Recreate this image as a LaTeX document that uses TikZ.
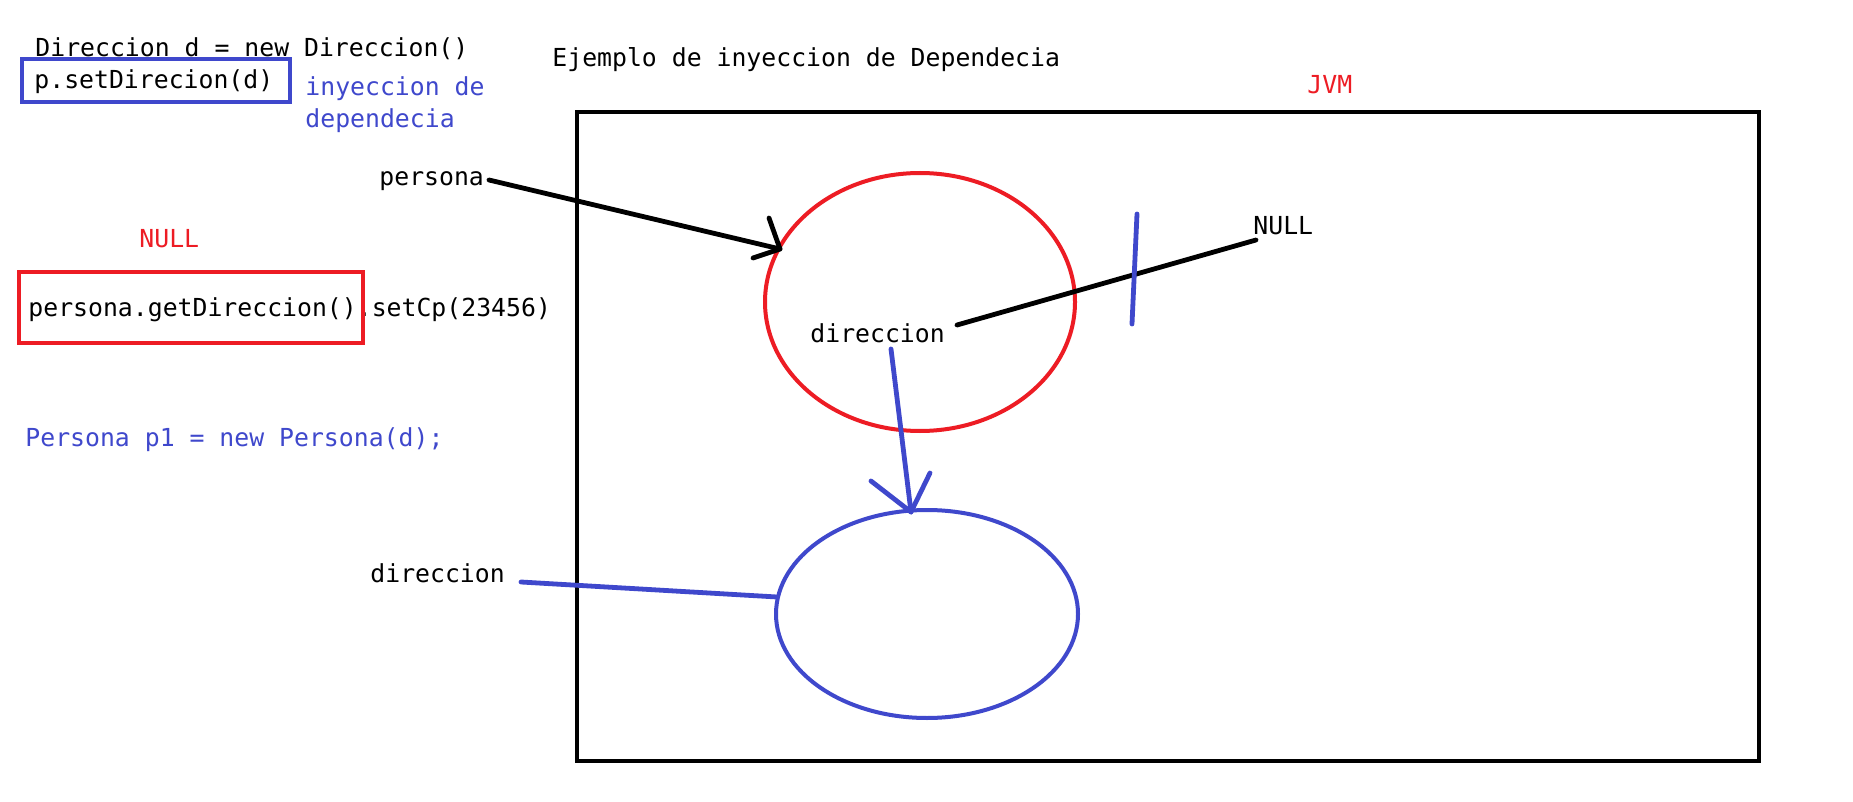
\documentclass[tikz,border=0pt]{standalone}
\usepackage{fontspec}
\setmonofont{DejaVu Sans Mono}
\usetikzlibrary{shapes.geometric}
\definecolor{pred}{HTML}{ED1C24}
\definecolor{pblue}{HTML}{3F48CC}
\tikzset{
  txt/.style={font=\ttfamily\fontsize{12.4pt}{14pt}\selectfont, inner sep=0pt, anchor=base west},
  boxline/.style={draw, line width=2.1pt, inner sep=0pt},
  stroke/.style={line width=2.4pt, line cap=round, line join=round},
  oval/.style={draw, ellipse, line width=2pt, inner sep=0pt}
}
\begin{document}
\begin{tikzpicture}[x=0.5pt,y=-0.5pt]
\fill[white] (0,0) rectangle (1853,802);
\useasboundingbox (0,0) rectangle (1853,802);

% texts on the left
\node[txt] (decl) at (35,57) {Direccion d = new Direccion()};
\node[txt] (setd) at (34,89) {p.setDirecion(d)};
\node[boxline, pblue, minimum width=134pt, minimum height=21.5pt] (bluebox) at (156,80.5) {};
\node[txt, pblue] (iny1) at (305,96) {inyeccion de};
\node[txt, pblue] (iny2) at (305,128) {dependecia};
\node[txt] (title) at (552,67) {Ejemplo de inyeccion de Dependecia};
\node[txt, pred] (jvm) at (1307,94) {JVM};
\node[txt] (persona) at (379,186) {persona};
\node[txt, pred] (nullred) at (139,248) {NULL};
\node[txt] (getd) at (28,317) {persona.getDireccion().setCp(23456)};
\node[boxline, pred, minimum width=172pt, minimum height=35.5pt] (redbox) at (191,307.5) {};
\node[txt, pblue] (newp) at (25,446) {Persona p1 = new Persona(d);};
\node[txt] (dirout) at (370,582) {direccion};

% JVM box
\node[draw, line width=2.4pt, inner sep=0pt, minimum width=591pt, minimum height=324.5pt] (jvmbox) at (1168,436.5) {};

% objects
\node[oval, pred, minimum width=155pt, minimum height=129pt] (objp) at (920,302) {};
\node[oval, pblue, minimum width=151pt, minimum height=104pt] (objd) at (927,614) {};
\node[txt] (dirin) at (810,343) {direccion};
\node[txt] (nullblk) at (1253,235) {NULL};

% coordinates for connector ends
\coordinate (pstart) at (489,180);
\coordinate (ptip) at (780,249);
\coordinate (parm1) at (769,218);
\coordinate (parm2) at (753,258);
\coordinate (nstart) at (957,325);
\coordinate (nend) at (1256,240);
\coordinate (cut1) at (1137,214);
\coordinate (cut2) at (1132,324);
\coordinate (bstart) at (891,349);
\coordinate (btip) at (911,512);
\coordinate (barm1) at (871,481);
\coordinate (barm2) at (930,473);
\coordinate (dstart) at (521,582);
\coordinate (dend) at (777,597);

% connectors
\draw[stroke] (pstart) -- (ptip);
\draw[stroke] (parm1) -- (ptip) -- (parm2);
\draw[stroke] (nstart) -- (nend);
\draw[stroke, pblue] (cut1) -- (cut2);
\draw[stroke, pblue] (bstart) -- (btip);
\draw[stroke, pblue] (barm1) -- (btip) -- (barm2);
\draw[stroke, pblue] (dstart) -- (dend);
\end{tikzpicture}
\end{document}
